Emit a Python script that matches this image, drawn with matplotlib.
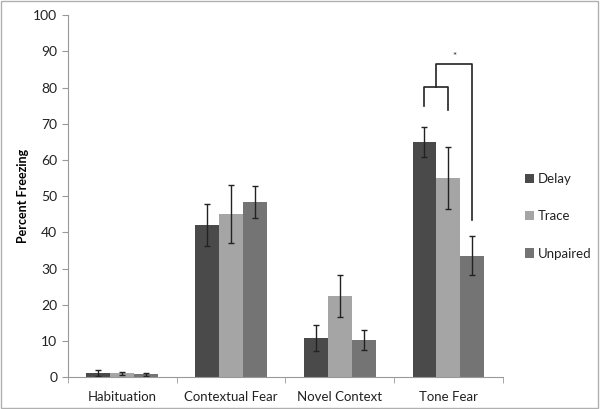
import matplotlib.pyplot as plt
import numpy as np

# values
categories = ["Habituation", "Contextual Fear", "Novel Context", "Tone Fear"]
groups = ["Delay", "Trace", "Unpaired"]
delay = [1.2, 42.0, 10.8, 65.0]
delay_err = [0.8, 5.8, 3.6, 4.2]
trace = [1.0, 45.0, 22.5, 55.0]
trace_err = [0.5, 8.0, 5.8, 8.6]
unpaired = [0.8, 48.3, 10.3, 33.5]
unpaired_err = [0.4, 4.4, 2.7, 5.4]

colors = ["#4a4a4a", "#a5a5a5", "#747474"]

plt.rcParams['font.family'] = ['Lato', 'DejaVu Sans']
plt.rcParams['text.color'] = "#222222"
plt.rcParams['xtick.labelcolor'] = "#222222"
plt.rcParams['ytick.labelcolor'] = "#222222"

fig = plt.figure(figsize=(6, 4.09), dpi=100)
ax = fig.add_axes([0.113, 0.078, 0.725, 0.885])

x = np.arange(len(categories))
w = 0.22
series = [(delay, delay_err), (trace, trace_err), (unpaired, unpaired_err)]
for i, (vals, errs) in enumerate(series):
    ax.bar(x + (i - 1) * w, vals, w, color=colors[i], label=groups[i],
           yerr=errs, error_kw=dict(ecolor="#222222", elinewidth=1.0, capsize=2.5, capthick=1.0))

ax.set_xlim(-0.5, 3.5)
ax.set_ylim(0, 100)
ax.set_yticks(range(0, 101, 10))
ax.set_xticks(x)
ax.set_xticklabels(categories, fontsize=9.5)
ax.set_xticks(np.arange(-0.5, 3.6, 1), minor=True)
ax.tick_params(axis='x', which='major', length=0, pad=10)
ax.tick_params(axis='x', which='minor', length=4, color="#999999", direction='out')
ax.tick_params(axis='y', labelsize=10, length=4, color="#999999", direction='out')
ax.set_ylabel("Percent Freezing", fontsize=9, fontweight='bold', labelpad=3)
for s in ['top', 'right']:
    ax.spines[s].set_visible(False)
for s in ['left', 'bottom']:
    ax.spines[s].set_color("#999999")
    ax.spines[s].set_linewidth(0.8)

# significance brackets on Tone Fear
xd, xt, xu = 3 - w, 3, 3 + w
inner_top = 80.2
outer_top = 86.4
ax.plot([xd, xd, xt, xt], [74.8, inner_top, inner_top, 73.8], color="#222222", lw=1.2)
xm = (xd + xt) / 2
ax.plot([xm, xm, xu, xu], [inner_top, outer_top, outer_top, 43.4], color="#222222", lw=1.2)
ax.text((xm + xu) / 2, outer_top + 1.0, "*", ha='center', va='bottom', fontsize=7)

fig.legend(loc='upper left', bbox_to_anchor=(0.855, 0.605), frameon=False, fontsize=9.5,
           handlelength=0.7, handleheight=0.7, handletextpad=0.3, labelspacing=1.9)

# outer frame
fig.patches.append(plt.Rectangle((0.002, 0.003), 0.995, 0.994, transform=fig.transFigure,
                                 fill=False, edgecolor="#b0b0b0", lw=1.0))

fig.savefig("out.png", dpi=100)
